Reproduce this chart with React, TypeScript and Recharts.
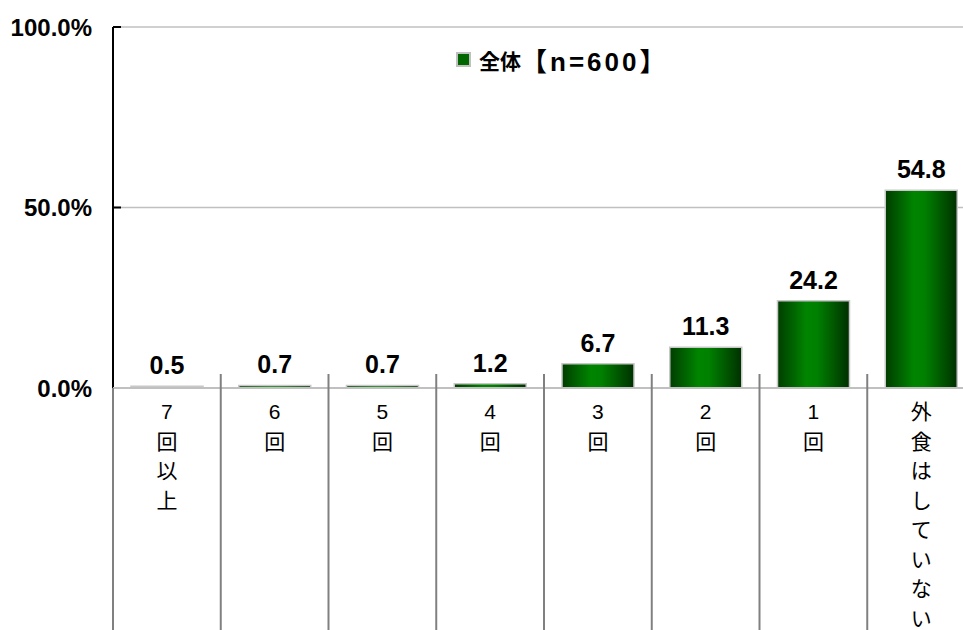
import { BarChart, Bar, XAxis, YAxis, CartesianGrid, Legend, LabelList } from 'recharts';

const categories = ['7回以上', '6回', '5回', '4回', '3回', '2回', '1回', '外食はしていない'];
const values = [0.5, 0.7, 0.7, 1.2, 6.7, 11.3, 24.2, 54.8];
const yTicks = [0, 50, 100];
const seriesName = '全体【n=600】';

const data = categories.map((name, i) => ({ name, value: values[i] }));

const W = 975;
const H = 630;
const Y_W = 113;
const X_H = 242;
const BAND = (W - Y_W) / categories.length;
const FONT = "'Liberation Sans', 'Noto Sans CJK JP', sans-serif";

function CategoryTick(props: any) {
    const { x, y, payload, index } = props;
    const chars = Array.from(String(payload.value));
    const left = x - BAND / 2;
    return (
        <g>
            <line x1={left} x2={left} y1={index === 0 ? y : y - 14} y2={H} stroke="#808080" strokeWidth={2} />
            <text x={x} y={y + 31} textAnchor="middle" fontSize={21} fill="#000" fontFamily={FONT}>
                {chars.map((c, i) => (
                    <tspan key={i} x={x} dy={i === 0 ? 0 : 29.5}>{c}</tspan>
                ))}
            </text>
        </g>
    );
}

function LegendBox() {
    return (
        <div style={{ display: 'flex', alignItems: 'center', fontFamily: FONT, fontWeight: 'bold', color: '#000', whiteSpace: 'nowrap' }}>
            <span style={{ width: 11, height: 11, background: '#006600', border: '2px solid #c0c0c0', marginRight: 8 }} />
            <span style={{ fontSize: 21 }}>{seriesName.slice(0, 2)}</span>
            <span style={{ fontSize: 26, letterSpacing: 3 }}>{seriesName.slice(2)}</span>
        </div>
    );
}

export default function App() {
    return (
        <div style={{ position: 'absolute', left: 0, top: 0, width: 963, height: 630, overflow: 'hidden', background: '#fff' }}>
            <BarChart width={W} height={H} data={data} margin={{ top: 27, right: 0, bottom: 0, left: 0 }}>
                <defs>
                    <linearGradient id="barGrad" x1="0" y1="0" x2="1" y2="0">
                        <stop offset="0%" stopColor="#003d00" />
                        <stop offset="40%" stopColor="#008500" />
                        <stop offset="55%" stopColor="#008000" />
                        <stop offset="100%" stopColor="#003000" />
                    </linearGradient>
                </defs>
                <CartesianGrid vertical={false} stroke="#c0c0c0" strokeWidth={1.5} />
                <YAxis
                    width={Y_W}
                    domain={[0, 100]}
                    ticks={yTicks}
                    tickFormatter={(v: number) => `${v.toFixed(1)}%`}
                    axisLine={{ stroke: '#000', strokeWidth: 2 }}
                    tickLine={{ stroke: '#000', strokeWidth: 2 }}
                    tickSize={-8}
                    tickMargin={29}
                    tick={{ fontSize: 24, fontWeight: 'bold', fill: '#000', fontFamily: FONT }}
                />
                <XAxis
                    dataKey="name"
                    height={X_H}
                    interval={0}
                    tickLine={false}
                    tickSize={0}
                    tickMargin={0}
                    axisLine={{ stroke: '#c0c0c0', strokeWidth: 2 }}
                    tick={<CategoryTick />}
                />
                <Legend
                    verticalAlign="middle"
                    align="center"
                    layout="horizontal"
                    wrapperStyle={{ top: 41, left: 456, width: 240 }}
                    content={<LegendBox />}
                />
                <Bar dataKey="value" name={seriesName} fill="url(#barGrad)" stroke="#c8c8c8" strokeWidth={1.5} barSize={72} isAnimationActive={false}>
                    <LabelList
                        dataKey="value"
                        position="top"
                        offset={12}
                        formatter={(v: any) => Number(v).toFixed(1)}
                        style={{ fontSize: 25, fontWeight: 'bold', fill: '#000', fontFamily: FONT }}
                    />
                </Bar>
            </BarChart>
        </div>
    );
}
